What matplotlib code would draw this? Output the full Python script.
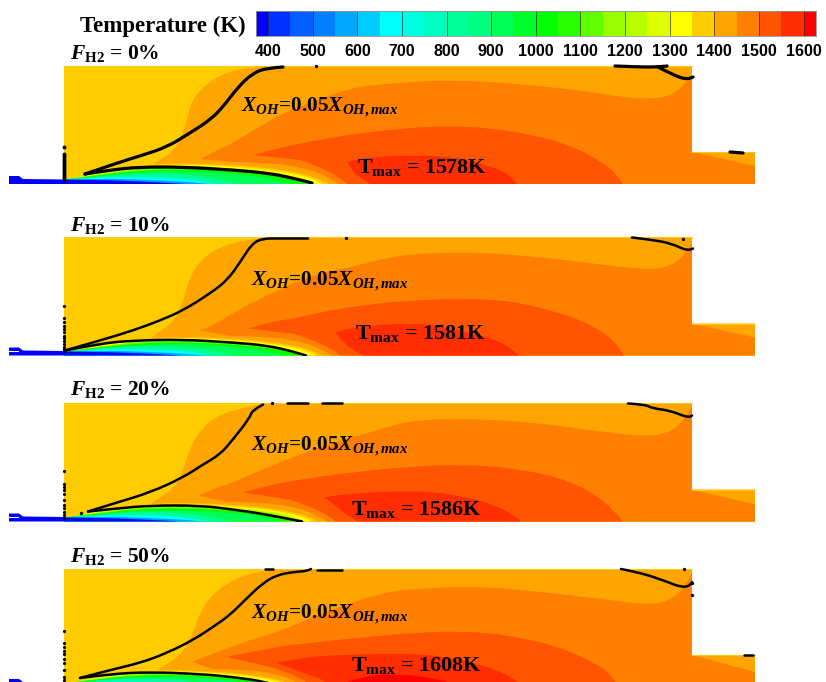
import matplotlib
matplotlib.use('Agg')
import matplotlib.pyplot as plt
from matplotlib.colors import ListedColormap
from matplotlib.patches import PathPatch
from matplotlib.path import Path
import numpy as np

plt.rcParams['mathtext.fontset'] = 'custom'
plt.rcParams['mathtext.rm'] = 'Liberation Serif:bold'
plt.rcParams['mathtext.it'] = 'Liberation Serif:italic:bold'
plt.rcParams['mathtext.bf'] = 'Liberation Serif:bold'
plt.rcParams['mathtext.default'] = 'rm'

W, H = 826, 682

# 色标
levels = [373, 400, 450, 500, 550, 600, 650, 700, 750, 800, 850, 900, 950, 1000, 1050,
          1100, 1150, 1200, 1250, 1300, 1350, 1400, 1450, 1500, 1550, 1600, 1628]
level_colors = ['#0000FF', '#0030FF', '#0060FF', '#0080FF', '#00A8FF', '#00CCFF', '#00FFFF',
                '#00FFE0', '#00FFC0', '#00FF99', '#00FF80', '#00FF55', '#00FF2A', '#00FF00',
                '#2AFF00', '#60FF00', '#99FF00', '#B8FF00', '#DDFF00', '#FFFF00', '#FFCC00',
                '#FFA500', '#FF8000', '#FF5500', '#FF2D00', '#FF0000']
tick_values = [400, 500, 600, 700, 800, 900, 1000, 1100, 1200, 1300, 1400, 1500, 1600]

# 四个工况
h2_labels = ['0%', '10%', '20%', '50%']
tmax_values = [1578, 1581, 1586, 1608]
panel_bottom = [184, 355.5, 521.5, 687]  # 中心线在图中的像素行

# 燃烧室外形 (x, r)
domain = [(64, 0), (64, 118), (692, 118), (692, 32), (755, 32), (755, 0)]
nozzle = [(9, 0), (9, 8), (19, 8), (23, 5), (64, 4.5), (64, 0)]
nozzle_slit = [(9, 3.6), (19, 3.6), (19, 4.4), (9, 4.4)]

# 1400K 等值线
band_1400 = [
    [(150, 17), (157, 22), (167, 29), (177, 37), (185, 57), (192, 84), (203, 97), (220, 109), (243, 116), (267, 118)],
    [(150, 17), (157, 22), (173, 33), (182, 50), (187, 70), (197, 92), (213, 105), (233, 113), (257, 117), (263, 118)],
    [(150, 17), (157, 22), (175, 34), (183, 51), (190, 74), (200, 91), (217, 106), (240, 113), (260, 117), (265, 118)],
    [(155, 15), (167, 23), (183, 34), (193, 54), (200, 74), (210, 90), (227, 104), (250, 114), (273, 118)],
]
# 1450K 等值线
band_1450 = [
    [(200, 25), (213, 32), (233, 41), (257, 56), (283, 71), (317, 84), (350, 96), (383, 100), (410, 102), (450, 104),
     (510, 101), (577, 94), (623, 87), (647, 85), (667, 87), (683, 97), (692, 109)],
    [(200, 25), (217, 32), (233, 43), (257, 55), (283, 68), (317, 82), (350, 88), (383, 97), (410, 101), (460, 104),
     (527, 100), (593, 92), (643, 86), (667, 88), (683, 98), (692, 112)],
    [(198, 26), (217, 34), (233, 39), (267, 54), (300, 67), (333, 79), (377, 91), (410, 101), (460, 103),
     (527, 100), (593, 91), (643, 85), (667, 88), (683, 99), (692, 115)],
    [(192, 25), (217, 35), (250, 47), (283, 57), (317, 72), (350, 84), (383, 94), (410, 98), (477, 101),
     (543, 95), (610, 87), (650, 82), (670, 87), (683, 97), (692, 114)],
]
outlet_r = [18, 18, 17, 15]
# 1500K 等值线
band_1500 = [
    [(253, 29), (283, 37), (317, 44), (367, 52), (410, 56), (443, 58), (493, 56), (543, 47), (577, 36), (603, 21), (618, 9), (623, 0)],
    [(248, 27), (267, 33), (300, 38), (333, 46), (377, 52), (410, 55), (460, 57), (510, 55), (560, 43), (593, 30), (617, 13), (624, 0)],
    [(243, 29), (267, 36), (300, 42), (350, 49), (410, 55), (460, 57), (510, 54), (560, 44), (593, 29), (613, 12), (623, 0)],
    [(227, 30), (267, 39), (317, 45), (367, 50), (410, 54), (460, 56), (510, 52), (560, 40), (593, 25), (610, 14), (619, 0)],
]
# 1550K 等值线
band_1550 = [
    [(347, 22), (367, 27), (420, 29), (460, 26), (493, 17), (510, 9), (517, 0)],
    [(335, 23), (353, 29), (420, 33), (460, 25), (493, 17), (510, 8), (519, 0)],
    [(325, 24), (343, 28), (420, 31), (460, 26), (493, 17), (513, 7), (521, 0)],
    [(277, 24), (300, 29), (333, 32), (420, 34), (460, 27), (493, 19), (517, 7), (522, 0)],
]
core_1600 = [(347, 5), (370, 12), (400, 13), (440, 8), (462, 0), (350, 0)]  # 只有50%工况有

lower_1450 = [(338, 0), (325, 9), (300, 17), (270, 21), (233, 22)]
lower_1500 = [(347, 0), (333, 13), (300, 24)]
lower_1550 = [(370, 0), (355, 10)]

# 射流冷核，按0%工况读取，其他工况用长度、高度比例
jet_layers = [
    ('#FFCC00', [(64, 4.5), (100, 12.5), (140, 19), (183, 21), (233, 19), (270, 16), (300, 11), (320, 5), (329, 0)]),
    ('#FFFF00', [(64, 4.5), (100, 11), (140, 17), (183, 19.5), (233, 17.5), (270, 14), (300, 9), (316, 4), (322, 0)]),
    ('#B8FF00', [(64, 4.5), (100, 10), (140, 16), (183, 18.5), (233, 16), (270, 12.5), (296, 7), (311, 2), (316, 0)]),
    ('#60FF00', [(64, 4.5), (100, 9.5), (140, 15), (183, 17), (233, 14.5), (270, 11), (295, 5.5), (313, 0)]),
    ('#00FF00', [(64, 4.5), (100, 9), (140, 13.5), (183, 15), (233, 12.5), (270, 9), (295, 4.5), (308, 0)]),
    ('#00FF55', [(64, 4.5), (100, 8), (140, 12), (183, 13), (233, 10.5), (270, 6), (290, 0)]),
    ('#00FF99', [(64, 4.5), (80, 5), (110, 9), (150, 11), (183, 10), (215, 6), (240, 0)]),
    ('#00FFFF', [(64, 4.5), (70, 4.5), (110, 7), (150, 7), (183, 5.5), (200, 3), (215, 0)]),
    ('#00A0FF', [(64, 4.5), (110, 5.5), (150, 4), (190, 2), (210, 0)]),
    ('#0000FF', [(64, 4.5), (100, 4), (130, 3), (160, 1.5), (185, 0)]),
]
jet_scale_x = [1.0, 0.976, 0.96, 0.88]
jet_scale_r = [1.0, 0.9, 0.9, 0.82]

# OH 等值线（黑线）
oh_upper = [
    [(85, 10), (117, 21), (143, 29), (167, 37), (190, 51), (210, 64), (223, 77), (238, 97), (253, 111), (267, 116), (283, 117)],
    [(65, 5), (100, 15), (133, 25), (160, 35), (183, 45), (210, 62), (227, 75), (240, 93), (252, 112), (263, 117), (277, 117), (308, 117)],
    [(88, 10), (117, 19), (150, 29), (183, 44), (203, 57), (220, 67), (233, 82), (250, 104), (252, 111), (263, 117)],
    [(80, 9), (110, 17), (140, 24), (167, 34), (193, 47), (213, 60), (230, 72), (247, 89), (263, 104), (277, 112), (293, 115), (308, 116), (311, 118)],
]
oh_lower = [
    [(85, 10), (110, 14), (140, 17), (183, 17), (233, 14), (267, 11), (293, 6), (312, 1)],
    [(65, 5), (100, 12), (133, 15), (183, 16), (233, 13), (267, 10), (293, 4), (306, 0)],
    [(88, 10), (117, 13), (150, 16), (200, 16), (233, 12), (267, 7), (302, 0)],
    [(80, 9), (110, 13), (150, 15), (200, 13), (233, 10), (267, 5), (283, 0)],
]
oh_right = [
    [(615, 118), (640, 117), (658, 117), (667, 118)],
    [(632, 118), (650, 116), (672, 112), (688, 104), (693, 107)],
    [(628, 118), (645, 117), (653, 113), (670, 111), (690, 103), (692, 106)],
    [(621, 118), (637, 115), (660, 108), (688, 97), (692, 105)],
]
oh_right_branch = [[(658, 117), (673, 109), (688, 104), (693, 107)], [], [], []]
oh_dashes = [
    [[(730, 32), (743, 31)]],
    [],
    [[(287, 118), (308, 118)], [(322, 118), (342, 118)]],
    [[(265, 118), (273, 118)], [(317, 117), (342, 117)], [(744, 32), (753, 32)]],
]
oh_dots = [
    [(316, 118)],
    [(346, 117), (683, 116)],
    [(272, 118), (81, 9)],
    [(684, 118), (692, 92), (692, 104)],
]
oh_width = [2.3, 1.8, 1.8, 1.8]
# 入口处 x=64 的散点高度
left_r = [
    [4, 6, 8, 10, 12, 14, 16, 18, 20, 22, 24, 26, 28, 30, 37],
    [5, 7, 9, 12, 15, 18, 20, 24, 27, 30, 34, 38, 50],
    [4, 7, 10, 14, 17, 22, 28, 32, 35, 38, 51],
    [4, 7, 10, 17, 24, 28, 33, 36, 40, 44, 56],
]

label_x = [241, 251, 251, 251]
label_r = [72, 70, 71, 68]
tmax_x = [357, 355, 351, 351]
tmax_r = [11, 17, 6, 16]
title_r = [125, 124.5, 126, 125]

SERIF = 'Liberation Serif'
fig = plt.figure(figsize=(W / 100, H / 100), dpi=100)
fig.patch.set_facecolor('white')


def scale_jet(pts, i):
    return [(64 + (x - 64) * jet_scale_x[i], r * jet_scale_r[i]) for x, r in pts]


def make_path(segments, closed=True):
    # segments: [(点列, 是否用二次曲线平滑), ...]，点当控制点用
    verts, codes = [], []
    for pts, smooth in segments:
        start = 0
        if not verts:
            verts.append(pts[0])
            codes.append(Path.MOVETO)
            start = 1
        if smooth and len(pts) > 2:
            if start == 0:
                verts.append(pts[0])
                codes.append(Path.LINETO)
            for k in range(1, len(pts) - 1):
                a, b = pts[k], pts[k + 1]
                mid = ((a[0] + b[0]) / 2, (a[1] + b[1]) / 2)
                if k == len(pts) - 2:
                    mid = b
                verts += [a, mid]
                codes += [Path.CURVE3, Path.CURVE3]
        else:
            for p in pts[start:]:
                verts.append(p)
                codes.append(Path.LINETO)
    if closed:
        verts.append(verts[0])
        codes.append(Path.CLOSEPOLY)
    return Path(verts, codes)


def fill(ax, segments, color, zorder=2):
    ax.add_patch(PathPatch(make_path(segments), facecolor=color, lw=0, zorder=zorder))


def line(ax, pts, lw, smooth=True):
    ax.add_patch(PathPatch(make_path([(pts, smooth)], closed=False), facecolor='none', edgecolor='black', lw=lw,
                           capstyle='round', joinstyle='round', zorder=5))


def draw_colorbar():
    cax = fig.add_axes([256 / W, 1 - 36 / H, 560 / W, 25 / H])
    cax.pcolormesh(levels, [0, 1], np.arange(26).reshape(1, -1), cmap=ListedColormap(level_colors),
                   vmin=-0.5, vmax=25.5)
    cax.vlines(tick_values, 0, 1, color='#202020', lw=0.6, alpha=0.75)
    cax.set_xlim(levels[0], levels[-1])
    cax.set_ylim(0, 1)
    cax.set_yticks([])
    cax.set_xticks(tick_values)
    cax.set_xticklabels([str(v) for v in tick_values], family='Liberation Sans', weight='bold', fontsize=11.5)
    cax.tick_params(axis='x', length=0, pad=6)
    for s in cax.spines.values():
        s.set_color('#909090')
        s.set_linewidth(0.6)
    fig.text(80 / W, 1 - 32 / H, 'Temperature (K)', family=SERIF, weight='bold', fontsize=16.5, va='baseline')


def draw_panel(i):
    ax = fig.add_axes([0, 1 - panel_bottom[i] / H, 1, 140 / H])
    ax.set_xlim(0, W)
    ax.set_ylim(0, 140)
    ax.axis('off')
    ax.patch.set_alpha(0)

    fill(ax, [(domain, False)], '#FFCC00')
    fill(ax, [(band_1400[i], True), ([(692, 118), (692, 32), (755, 32), (755, 0), (band_1400[i][0][0], 0)], False)], '#FFA500')
    fill(ax, [(band_1450[i], True), ([(692, 32), (755, outlet_r[i]), (755, 0)], False),
              (scale_jet(lower_1450, i), True)], '#FF8000')
    fill(ax, [(band_1500[i], True), (scale_jet(lower_1500, i), True)], '#FF5500')
    fill(ax, [(band_1550[i], True), (scale_jet(lower_1550, i), True)], '#FF2D00')
    if tmax_values[i] > 1600:
        fill(ax, [(core_1600, True)], '#FF0000')
    for color, pts in jet_layers:
        fill(ax, [(scale_jet(pts, i), True), ([(64, 0)], False)], color, zorder=3)
    fill(ax, [(nozzle, False)], '#0000FF', zorder=3)
    fill(ax, [(nozzle_slit, False)], 'white', zorder=3)

    # 顶部和出口的细黄线
    ax.plot([band_1400[i][-1][0], 692], [118, 118], color='#FFCC00', lw=0.7, zorder=2.5)
    ax.plot([692, 755], [32, 32], color='#FFCC00', lw=0.7, zorder=2.5)

    lw = oh_width[i]
    line(ax, oh_upper[i], lw)
    line(ax, oh_lower[i], lw)
    line(ax, oh_right[i], lw)
    if oh_right_branch[i]:
        line(ax, oh_right_branch[i], lw)
    for d in oh_dashes[i]:
        line(ax, d, lw)
    a = np.array(oh_dots[i])
    ax.plot(a[:, 0], a[:, 1], 'o', color='black', ms=2.4, mew=0, zorder=5)
    ax.plot([64] * len(left_r[i]), left_r[i], 'o', color='black', ms=2.8 if i == 0 else 2.3, mew=0, zorder=5)

    ax.text(70, title_r[i], r'$\mathit{F}_{\mathrm{H2}}$ = ' + h2_labels[i], family=SERIF,
            weight='bold', fontsize=15.5, va='baseline')
    ax.text(label_x[i], label_r[i], r'$\mathit{X}_{\mathit{OH}}$=0.05$\mathit{X}_{\mathit{OH,max}}$', family=SERIF,
            weight='bold', fontsize=15.3, va='baseline', zorder=6)
    ax.text(tmax_x[i], tmax_r[i], 'T$_{\\mathrm{max}}$ = %dK' % tmax_values[i], family=SERIF,
            weight='bold', fontsize=15.8, va='baseline', zorder=6)


draw_colorbar()
for i in range(4):
    draw_panel(i)

fig.savefig('out.png', dpi=100)
